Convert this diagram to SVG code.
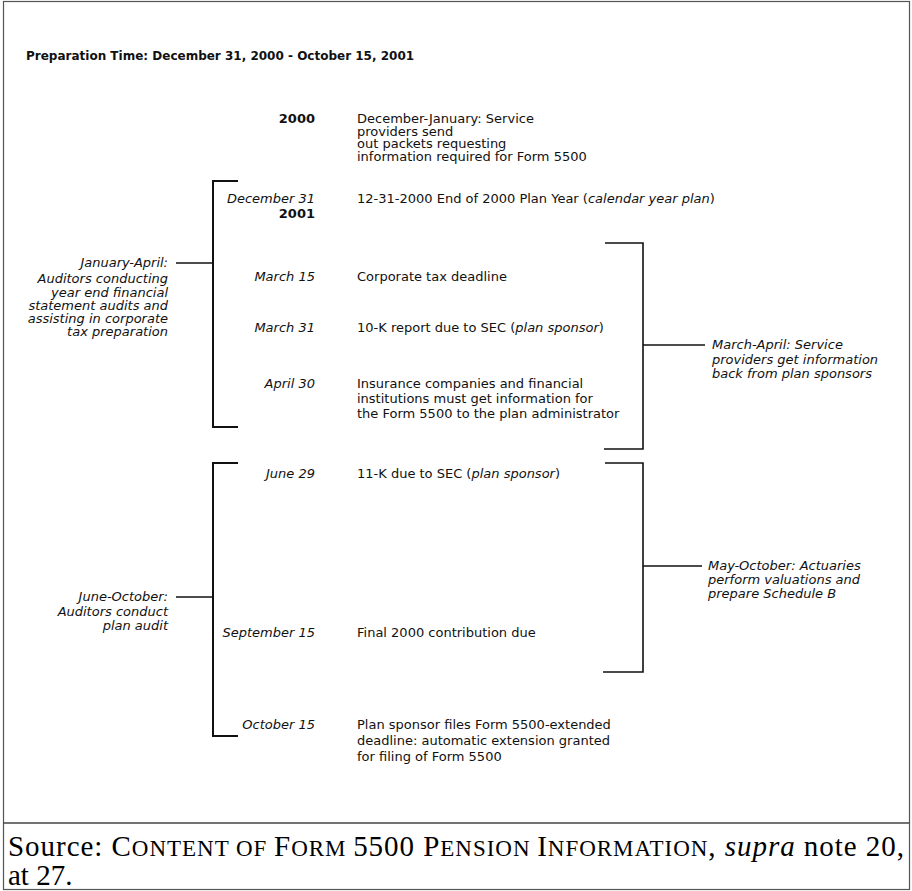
<svg xmlns="http://www.w3.org/2000/svg" width="912" height="891" viewBox="0 0 912 891">
<style>
.t{font-family:"DejaVu Sans","Liberation Sans",Arial,sans-serif;fill:#111;font-size:13px}
.b{font-weight:bold}
.i{font-style:italic}
.r{text-anchor:end}
.ttl{font-family:"DejaVu Sans","Liberation Sans",Arial,sans-serif;font-weight:bold;font-size:12px;fill:#111}
.src{font-family:"Liberation Serif","Times New Roman",serif;font-size:29px;fill:#000}
.sc{font-size:23px}
.br{fill:none;stroke:#111;stroke-width:2}
.br2{fill:none;stroke:#111;stroke-width:1.6}
.ln{stroke:#111;stroke-width:1.6}
</style>
<rect x="3.5" y="1.5" width="906" height="888" fill="#fff" stroke="#555" stroke-width="1.2"/>
<line x1="3.5" y1="823" x2="909.5" y2="823" stroke="#444" stroke-width="1.5"/>

<text id="title" class="ttl" x="26" y="60">Preparation Time: December 31, 2000 - October 15, 2001</text>

<g id="connectors">
  <path class="br" d="M238,181 H213 V427 H238"/>
  <line class="ln" x1="176" y1="263" x2="213" y2="263"/>
  <path class="br2" d="M605,243 H643 V449 H604"/>
  <line class="ln" x1="643" y1="345" x2="705" y2="345"/>
  <path class="br" d="M238,463 H213 V736 H238"/>
  <line class="ln" x1="176" y1="597" x2="213" y2="597"/>
  <path class="br2" d="M605,463 H643 V672 H603"/>
  <line class="ln" x1="643" y1="566" x2="702" y2="566"/>
</g>

<g id="row-2000">
  <text class="t b r" x="315" y="123">2000</text>
  <text class="t" x="357" y="123">December-January: Service</text>
  <text class="t" x="357" y="135.5">providers send</text>
  <text class="t" x="357" y="148">out packets requesting</text>
  <text class="t" x="357" y="160.5">information required for Form 5500</text>
</g>
<g id="row-dec31">
  <text class="t i r" x="315" y="203">December 31</text>
  <text class="t" x="357" y="203">12-31-2000 End of 2000 Plan Year (<tspan class="i">calendar year plan</tspan>)</text>
  <text class="t b r" x="315" y="218">2001</text>
</g>
<g id="row-mar15">
  <text class="t i r" x="315" y="281">March 15</text>
  <text class="t" x="357" y="281">Corporate tax deadline</text>
</g>
<g id="row-mar31">
  <text class="t i r" x="315" y="332">March 31</text>
  <text class="t" x="357" y="332">10-K report due to SEC (<tspan class="i">plan sponsor</tspan>)</text>
</g>
<g id="row-apr30">
  <text class="t i r" x="315" y="388">April 30</text>
  <text class="t" x="357" y="388">Insurance companies and financial</text>
  <text class="t" x="357" y="403">institutions must get information for</text>
  <text class="t" x="357" y="418">the Form 5500 to the plan administrator</text>
</g>
<g id="row-jun29">
  <text class="t i r" x="315" y="478">June 29</text>
  <text class="t" x="357" y="478">11-K due to SEC (<tspan class="i">plan sponsor</tspan>)</text>
</g>
<g id="row-sep15">
  <text class="t i r" x="315" y="637">September 15</text>
  <text class="t" x="357" y="637">Final 2000 contribution due</text>
</g>
<g id="row-oct15">
  <text class="t i r" x="315" y="729">October 15</text>
  <text class="t" x="357" y="729">Plan sponsor files Form 5500-extended</text>
  <text class="t" x="357" y="745">deadline: automatic extension granted</text>
  <text class="t" x="357" y="761">for filing of Form 5500</text>
</g>

<g id="label-jan-apr">
  <text class="t i r" x="168" y="267">January-April:</text>
  <text class="t i r" x="168" y="283">Auditors conducting</text>
  <text class="t i r" x="168" y="297">year end financial</text>
  <text class="t i r" x="168" y="310">statement audits and</text>
  <text class="t i r" x="168" y="323">assisting in corporate</text>
  <text class="t i r" x="168" y="336">tax preparation</text>
</g>
<g id="label-jun-oct">
  <text class="t i r" x="168" y="601">June-October:</text>
  <text class="t i r" x="168" y="616">Auditors conduct</text>
  <text class="t i r" x="168" y="630">plan audit</text>
</g>
<g id="label-mar-apr">
  <text class="t i" x="712" y="349">March-April: Service</text>
  <text class="t i" x="712" y="364">providers get information</text>
  <text class="t i" x="712" y="378">back from plan sponsors</text>
</g>
<g id="label-may-oct">
  <text class="t i" x="708" y="570">May-October: Actuaries</text>
  <text class="t i" x="708" y="584">perform valuations and</text>
  <text class="t i" x="708" y="598">prepare Schedule B</text>
</g>

<g id="source">
  <text class="src" x="8" y="856" textLength="896" lengthAdjust="spacing">Source: C<tspan class="sc">ONTENT OF </tspan>F<tspan class="sc">ORM </tspan>5500 P<tspan class="sc">ENSION </tspan>I<tspan class="sc">NFORMATION</tspan>, <tspan font-style="italic">supra</tspan> note 20,</text>
  <text class="src" x="8" y="885">at 27.</text>
</g>
</svg>
